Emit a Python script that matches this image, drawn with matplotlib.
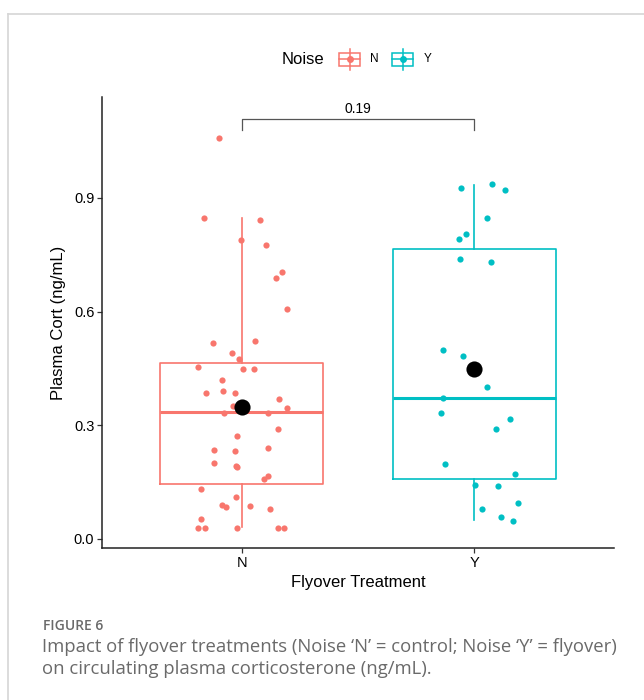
import matplotlib.pyplot as plt
from matplotlib.patches import Rectangle
from matplotlib.lines import Line2D

# jittered points: (x offset from group centre, value)
n_offsets = [-0.099, -0.163, 0.077, -0.004, 0.106, 0.146, 0.172, 0.196, -0.124, 0.056,
             -0.042, -0.013, -0.186, 0.004, 0.053, -0.085, -0.153, -0.079, -0.027, 0.162,
             0.196, -0.036, -0.077, 0.115, -0.021, 0.155, -0.120, -0.027, 0.113, -0.117,
             -0.026, -0.018, 0.096, 0.113, -0.176, -0.026, -0.083, -0.067, 0.034, 0.123,
             -0.176, -0.188, -0.158, -0.021, 0.158, 0.180]
n_values = [1.057, 0.848, 0.842, 0.788, 0.776, 0.690, 0.704, 0.607, 0.517, 0.523,
            0.490, 0.475, 0.454, 0.449, 0.448, 0.420, 0.384, 0.391, 0.386, 0.369,
            0.346, 0.352, 0.333, 0.332, 0.273, 0.289, 0.235, 0.231, 0.239, 0.200,
            0.193, 0.189, 0.158, 0.166, 0.132, 0.111, 0.091, 0.085, 0.086, 0.079,
            0.052, 0.030, 0.030, 0.030, 0.030, 0.030]
y_offsets = [-0.057, 0.077, 0.133, 0.053, -0.067, -0.034, -0.063, 0.072, -0.133, -0.047,
             0.056, -0.133, -0.142, 0.155, 0.093, -0.127, 0.173, 0.001, 0.102, 0.186,
             0.034, 0.115, 0.164]
y_values = [0.926, 0.936, 0.921, 0.848, 0.793, 0.805, 0.738, 0.732, 0.498, 0.483,
            0.400, 0.371, 0.333, 0.317, 0.289, 0.199, 0.172, 0.142, 0.139, 0.094,
            0.079, 0.059, 0.048]

groups = ['N', 'Y']
colors = ['#F8766D', '#00BFC4']
# box statistics
q1 = [0.145, 0.158]
medians = [0.335, 0.372]
q3 = [0.464, 0.765]
whislo = [0.032, 0.050]
whishi = [0.847, 0.934]
means = [0.348, 0.449]
p_value = '0.19'

fig = plt.figure(figsize=(6.44, 7.0), dpi=100)
plt.rcParams['font.family'] = ['Liberation Sans', 'DejaVu Sans']

# light frame of the figure panel
fig.add_artist(Line2D([8/644, 1], [1 - 13.5/700] * 2, color='#d6d6d6', lw=1.2))
fig.add_artist(Line2D([8/644] * 2, [0, 1 - 13.5/700], color='#d6d6d6', lw=1.2))

ax = fig.add_axes([102/644, 1 - 548/700, 512/644, 451/700])

for i, g in enumerate(groups):
    stats = [dict(q1=q1[i], med=medians[i], q3=q3[i], whislo=whislo[i], whishi=whishi[i])]
    ax.bxp(stats, positions=[i + 1], widths=0.7, showcaps=False, showfliers=False,
           boxprops=dict(color=colors[i], lw=1.2),
           whiskerprops=dict(color=colors[i], lw=1.2),
           medianprops=dict(color=colors[i], lw=2.2))

ax.scatter([1 + o for o in n_offsets], n_values, s=20, color=colors[0], lw=0, zorder=3)
ax.scatter([2 + o for o in y_offsets], y_values, s=20, color=colors[1], lw=0, zorder=3)
ax.scatter([1, 2], means, s=135, color='black', lw=0, zorder=4)

# significance bracket
ax.plot([1, 1, 2, 2], [1.079, 1.108, 1.108, 1.079], color='#555555', lw=0.9)
ax.text(1.5, 1.116, p_value, ha='center', va='bottom', fontsize=10)

ax.set_xlim(0.4, 2.6)
ax.set_ylim(-0.0238, 1.1665)
ax.set_xticks([1, 2])
ax.set_xticklabels(groups, fontsize=10.5)
ax.set_yticks([0.0, 0.3, 0.6, 0.9])
ax.set_yticklabels(['0.0', '0.3', '0.6', '0.9'], fontsize=10.5)
ax.tick_params(length=3.5, width=0.9, color='#333333', pad=2)
for s in ['top', 'right']:
    ax.spines[s].set_visible(False)
for s in ['left', 'bottom']:
    ax.spines[s].set_linewidth(1.1)
    ax.spines[s].set_color('#222222')
ax.set_xlabel('Flyover Treatment', fontsize=12, labelpad=4)
ax.set_ylabel('Plasma Cort (ng/mL)', fontsize=12, labelpad=6)

# legend drawn by hand
yc = 1 - 59/700
fig.text(282/644, yc, 'Noise', fontsize=12, ha='left', va='center')
for i, (g, xk, xt) in enumerate(zip(groups, [339, 392], [370, 424])):
    x0, x1 = xk/644, (xk + 21)/644
    h = 13/700
    fig.add_artist(Rectangle((x0, yc - h/2), x1 - x0, h, fill=False, ec=colors[i], lw=1.1))
    fig.add_artist(Line2D([(x0 + x1)/2] * 2, [yc - h/2 - 4/700, yc + h/2 + 4/700], color=colors[i], lw=1.1))
    fig.add_artist(Line2D([x0, x1], [yc, yc], color=colors[i], lw=1.1))
    fig.add_artist(Line2D([(x0 + x1)/2], [yc], marker='o', ms=5, color=colors[i], mec='none'))
    fig.text(xt/644, yc, g, fontsize=8.5, ha='left', va='center')

# caption
cap_font = ['Open Sans', 'DejaVu Sans']
fig.text(43/644, 1 - 626/700, 'FIGURE 6', fontsize=10, color='#6a6a6a', family=cap_font,
         weight='semibold', va='center')
fig.text(42/644, 1 - 647/700, 'Impact of flyover treatments (Noise \u2018N\u2019 = control; Noise \u2018Y\u2019 = flyover)',
         fontsize=13.3, color='#6a6a6a', family=cap_font, va='center')
fig.text(42/644, 1 - 669/700, 'on circulating plasma corticosterone (ng/mL).',
         fontsize=13.3, color='#6a6a6a', family=cap_font, va='center')

fig.savefig('out.png', dpi=100)
